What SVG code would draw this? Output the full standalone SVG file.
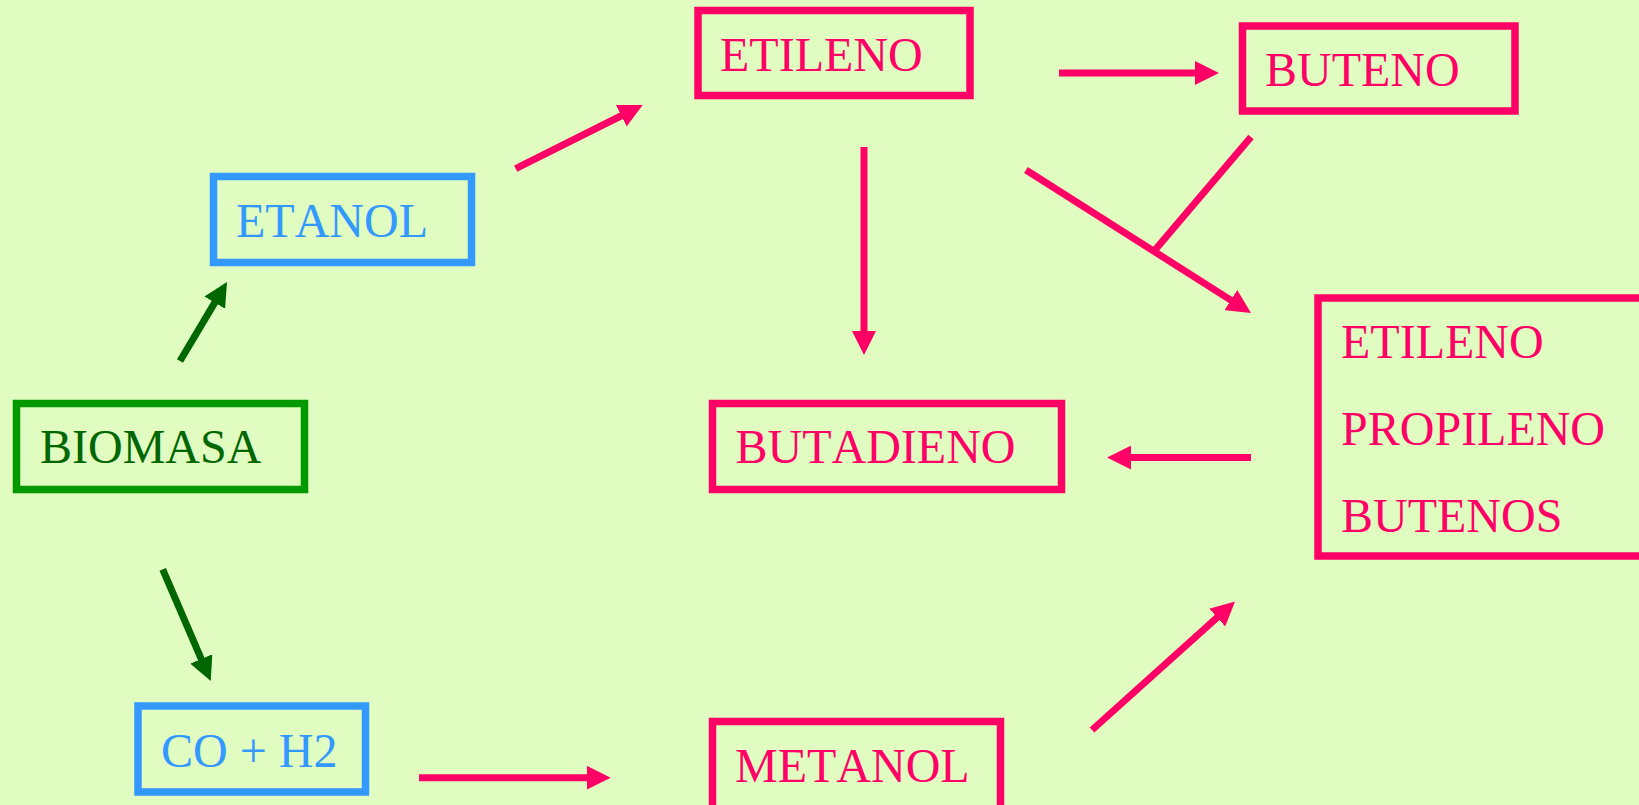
<svg xmlns="http://www.w3.org/2000/svg" width="1639" height="805" viewBox="0 0 1639 805">
<style>
.box{fill:none;stroke-width:7.5}
.pk{stroke:#FF0066}
.bl{stroke:#3399FF}
.gb{stroke:#009900}
.t{font-family:"Liberation Serif","Times New Roman",serif;font-size:48px;font-kerning:none}
.tpk{fill:#FF0066}
.tbl{fill:#3399FF}
.tgr{fill:#006600}
.c{fill:none;stroke-width:7}
.cpk{stroke:#FF0066;marker-end:url(#apk)}
.cgr{stroke:#006600;marker-end:url(#agr)}
</style>
<defs>
<marker id="apk" markerUnits="userSpaceOnUse" viewBox="0 0 24 24" markerWidth="24" markerHeight="24" refX="14" refY="12" orient="auto"><path d="M0,0 L24,12 L0,24 z" fill="#FF0066"/></marker>
<marker id="agr" markerUnits="userSpaceOnUse" viewBox="0 0 24 24" markerWidth="24" markerHeight="24" refX="14" refY="12" orient="auto"><path d="M0,0 L24,12 L0,24 z" fill="#006600"/></marker>
</defs>
<rect x="0" y="0" width="1639" height="805" fill="#E0FCC0"/>
<g id="connectors">
<line class="c cgr" x1="180" y1="361" x2="221.9" y2="290.6"/>
<line class="c cgr" x1="162.7" y1="569.3" x2="206.8" y2="671.8"/>
<line class="c cpk" x1="515.7" y1="168.7" x2="633.8" y2="109.5"/>
<line class="c cpk" x1="1059" y1="73" x2="1209" y2="73"/>
<line class="c cpk" x1="864" y1="147" x2="864" y2="345"/>
<line class="c cpk" x1="1026" y1="170" x2="1242.6" y2="307.6"/>
<line class="c pk" x1="1251" y1="137" x2="1155" y2="250"/>
<line class="c cpk" x1="1251" y1="457.6" x2="1117" y2="457.6"/>
<line class="c cpk" x1="419" y1="777.7" x2="600.7" y2="777.7"/>
<line class="c cpk" x1="1092" y1="730" x2="1227.6" y2="608.2"/>
</g>
<g id="biomasa">
<rect class="box gb" x="16.5" y="403.5" width="288" height="86"/>
<text class="t tgr" x="40" y="463">BIOMASA</text>
</g>
<g id="etanol">
<rect class="box bl" x="213.5" y="176.5" width="258" height="86"/>
<text class="t tbl" x="236" y="237">ETANOL</text>
</g>
<g id="co_h2">
<rect class="box bl" x="138" y="706" width="227.5" height="86"/>
<text class="t tbl" x="161" y="767">CO + H2</text>
</g>
<g id="etileno">
<rect class="box pk" x="698" y="10.5" width="272" height="85"/>
<text class="t tpk" x="720" y="70.7">ETILENO</text>
</g>
<g id="buteno">
<rect class="box pk" x="1242.5" y="26" width="272.5" height="85"/>
<text class="t tpk" x="1265" y="85.8">BUTENO</text>
</g>
<g id="butadieno">
<rect class="box pk" x="712.5" y="403.5" width="349" height="86"/>
<text class="t tpk" x="735.5" y="463.3">BUTADIENO</text>
</g>
<g id="olefinas">
<rect class="box pk" x="1318" y="298" width="400" height="258"/>
<text class="t tpk" x="1341" y="358.3">ETILENO</text>
<text class="t tpk" x="1341" y="445">PROPILENO</text>
<text class="t tpk" x="1341" y="531.7">BUTENOS</text>
</g>
<g id="metanol">
<rect class="box pk" x="712.5" y="721.5" width="288" height="120"/>
<text class="t tpk" x="735" y="781.7">METANOL</text>
</g>
</svg>
